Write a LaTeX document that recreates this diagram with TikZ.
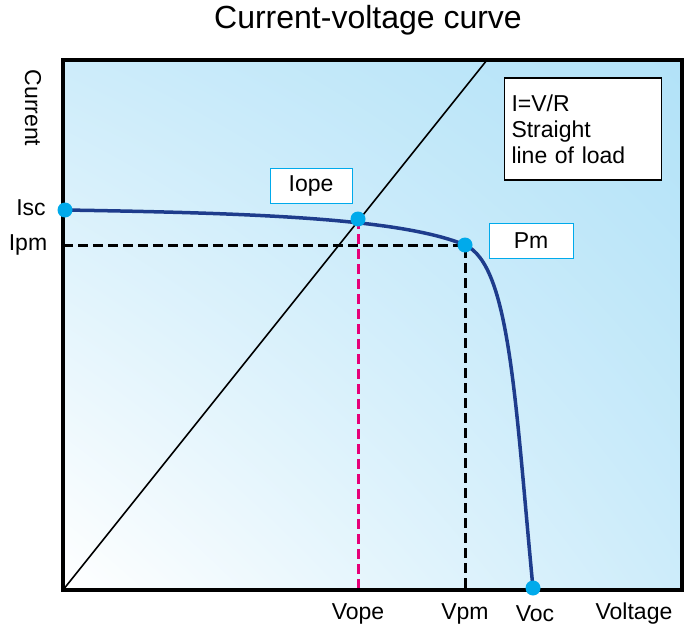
\documentclass[tikz,border=0pt]{standalone}
\usepackage{fontspec}
\setmainfont{Liberation Sans}
\usepackage{xcolor}
\usepackage{tikz}
\usetikzlibrary{shapes,arrows,shadings}
\definecolor{curveblue}{RGB}{30,60,140}
\definecolor{dotblue}{RGB}{0,170,235}
\definecolor{skyblue}{RGB}{178,226,248}
\definecolor{paleblue}{RGB}{205,236,250}
\definecolor{magentaline}{RGB}{230,0,120}
\tikzset{
  dot/.style={circle, fill=dotblue, inner sep=0pt, minimum size=15pt},
  lbl/.style={font=\fontsize{23}{26}\selectfont},
  tag/.style={draw=dotblue, fill=white, line width=1pt, font=\fontsize{23}{26}\selectfont, minimum height=35pt, inner sep=0pt},
  guide/.style={dashed, dash pattern=on 10pt off 5pt, line width=3pt}
}
\begin{document}
\begin{tikzpicture}[x=1pt,y=-1pt]
  \useasboundingbox (0,0) rectangle (697,634);
  % background of the plot
  \shade[lower left=white, upper right=skyblue, upper left=paleblue, lower right=paleblue]
    (63,60) rectangle (682,590);
  % points of the curve
  \coordinate (origin) at (63,590);
  \coordinate (isc) at (65,210);
  \coordinate (iope) at (358,219);
  \coordinate (pm) at (465,245);
  \coordinate (voc) at (533,588);
  \coordinate (ipmaxis) at (63,245);
  \coordinate (vpmaxis) at (465,590);
  \coordinate (vopeaxis) at (358,590);
  \coordinate (loadend) at (487,60);
  % guides
  \draw[guide] (ipmaxis) -- (pm) -- (vpmaxis);
  \draw[guide, magentaline] (iope) -- (vopeaxis);
  % load line
  \draw[line width=1.6pt] (origin) -- (loadend);
  % IV curve
  \draw[curveblue, line width=3.5pt] (isc) .. controls (250,213) and (400,218) .. (pm)
    .. controls (510,265) and (515,400) .. (voc);
  \draw[line width=3.5pt] (63,60) rectangle (682,590);
  \node[dot] at (isc) {};
  \node[dot] at (iope) {};
  \node[dot] at (pm) {};
  \node[dot] at (voc) {};
  % labels
  \node (title) at (368,20) {\fontsize{32}{34}\selectfont Current-voltage curve};
  \node[lbl, rotate=-90] (current) at (33,108) {Current};
  \node[lbl] (isclbl) at (31,208) {Isc};
  \node[lbl] (ipmlbl) at (28,245) {Ipm};
  \node[lbl] (vopelbl) at (358,614) {Vope};
  \node[lbl] (vpmlbl) at (465,614) {Vpm};
  \node[lbl] (voclbl) at (535,614) {Voc};
  \node[lbl] (voltlbl) at (634,614) {Voltage};
  \node[tag, minimum width=82pt] (iopetag) at (311,186) {Iope};
  \node[tag, minimum width=84pt] (pmtag) at (531,241) {Pm};
  \node[draw, fill=white, line width=1.2pt, lbl, align=left, text width=143pt,
        minimum height=102pt, inner sep=7pt] (load) at (583,129)
        {I=V/R\\Straight\\line of load};
\end{tikzpicture}
\end{document}
